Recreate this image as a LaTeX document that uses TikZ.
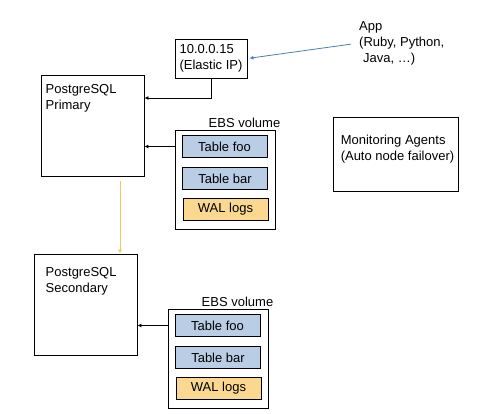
\documentclass[tikz,border=0pt]{standalone}
\usepackage{fontspec}
\setmainfont{Liberation Sans}
\usetikzlibrary{arrows.meta,positioning}
\definecolor{TableBlue}{RGB}{185,205,229}
\definecolor{LogOrange}{RGB}{250,216,143}
\definecolor{ReplOrange}{RGB}{246,196,92}
\definecolor{AppBlue}{RGB}{74,126,187}

\begin{document}
\begin{tikzpicture}[
  x=1bp, y=-1bp,
  every node/.style = {font=\fontsize{13bp}{16bp}\selectfont},
  box/.style = {draw,line width=0.9bp,minimum width=#1},
  server/.style = {box=103bp,minimum height=101bp},
  volume/.style = {box=100bp,minimum height=99bp,
    label={[anchor=south east,inner sep=2bp,xshift=7bp]north east:EBS volume}},
  cell/.style = {box=85bp,minimum height=22bp,fill=#1,line width=0.8bp},
  tablebox/.style = {cell=TableBlue},
  logbox/.style = {cell=LogOrange},
  caption/.style = {anchor=north west,align=left,inner sep=0pt},
  link/.style = {-{Latex[length=4bp,width=4bp]},line width=0.8bp},
  repl/.style = {link,ReplOrange,line width=1bp}
  ]
  \useasboundingbox (0,0) rectangle (493,413);
  % application and elastic ip
  \node[caption] (app) at (359,21) {App\\(Ruby, Python,\\\hspace*{4bp}Java, …)};
  \node[box=72bp,minimum height=39bp,align=left] (eip) at (211,58.5) {10.0.0.15\\(Elastic IP)};
  \draw[link,AppBlue,shorten <=8bp,shorten >=2bp] (app.west) -- (eip.east);
  %
  \begin{scope}
    \node[server] (pri) at (92.5,125.5) {};
    \node[caption,below right=10bp and 5bp of pri.north west] (pritext) {PostgreSQL\\Primary};
    \node[volume] (ebs1) at (225,179.5) {};
    \node[tablebox] (foo1) at (224.5,146.5) {Table foo};
    \node[tablebox] (bar1) at (225,178.5) {Table bar};
    \node[logbox]   (wal1) at (225.5,209) {WAL logs};
    \draw[link] (foo1.west -| ebs1.west) -- (foo1.west -| pri.east);
  \end{scope}
  \begin{scope}[shift={(-7,179)}]
    \node[server] (sec) at (92.5,125.5) {};
    \node[caption,below right=13.5bp and 12bp of sec.north west] (sectext) {PostgreSQL\\Secondary};
    \node[volume] (ebs2) at (225,179.5) {};
    \node[tablebox] (foo2) at (224.5,146.5) {Table foo};
    \node[tablebox] (bar2) at (225,178.5) {Table bar};
    \node[logbox]   (wal2) at (225.5,209) {WAL logs};
    \draw[link] (foo2.west -| ebs2.west) -- (foo2.west -| sec.east);
  \end{scope}
  %
  \draw[link] (eip.south) |- ([yshift=27.5bp]pri.east);
  \draw[repl] ([xshift=27.5bp,yshift=-5bp]pri.south) -- ([xshift=27.5bp]pri.south |- sec.north);
  % monitoring
  \node[box=125bp,minimum height=74bp] (mon) at (395.5,154) {};
  \node[caption,below right=18bp and 8bp of mon.north west] (montext) {Monitoring Agents\\(Auto node failover)};
\end{tikzpicture}
\end{document}
